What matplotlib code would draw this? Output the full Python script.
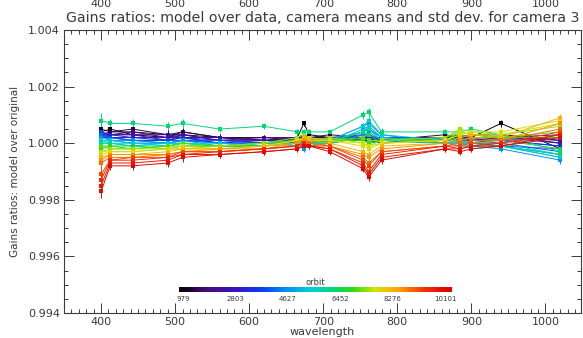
import numpy as np
import matplotlib
matplotlib.use("Agg")
import matplotlib.pyplot as plt
from matplotlib.colors import LinearSegmentedColormap, Normalize
from matplotlib.cm import ScalarMappable
from matplotlib.ticker import MultipleLocator, FormatStrFormatter
from matplotlib.transforms import ScaledTranslation

# Band centre wavelengths (nm)
wavelengths = [400.0, 412.5, 442.5, 490.0, 510.0, 560.0, 620.0, 665.0, 673.75,
               681.25, 708.75, 753.75, 761.25, 778.75, 865.0, 885.0, 900.0,
               940.0, 1020.0]

# Orbit numbers of the plotted camera means
orbits = [979, 1200, 1450, 1900, 2100, 2400, 2803, 3050, 3300, 3800,
          4000, 4200, 4627, 5100, 5300, 5500, 6000, 6200, 6452, 6900,
          7100, 7400, 7600, 7800, 8276, 8600, 8900, 9200, 9500, 9800, 10101]

# Gain ratio minus one, in units of 1e-4, one row per orbit
ratio_offsets_1e4 = [
    [4, 5, 3, 2, 4, 2, 1, 2, 7, 3, 2, 1, 3, 1, 2, 3, 2, 7, -2],
    [5, 4, 4, 3, 3, 2, 2, 1, 3, 2, 2, 2, 2, 2, 2, 2, 3, 3, 0],
    [3, 4, 5, 3, 4, 2, 1, 1, 2, 2, 3, 2, 2, 1, 3, 2, 3, 3, 1],
    [3, 3, 4, 2, 3, 1, 2, 2, 3, 1, 2, 3, 1, 2, 2, 1, 3, 2, 3],
    [4, 3, 3, 3, 2, 2, 1, 2, 2, 1, 1, 1, 2, 1, 1, 2, 1, 2, 1],
    [2, 3, 3, 1, 3, 1, 1, 1, 2, 2, 1, 2, 0, 1, 1, 2, 2, 1, 2],
    [3, 2, 2, 2, 2, 0, 1, 0, 1, 1, 1, 1, 1, 0, 2, 1, 1, 2, 0],
    [3, 3, 2, 1, 2, 1, 0, 1, 0, 1, 0, 2, 2, 1, 0, 1, 1, 1, -1],
    [2, 2, 1, 1, 2, 0, 0, 1, 2, 1, 0, 2, 3, 1, 1, 3, 2, 1, -1],
    [4, 2, 1, 1, 1, 1, 0, 2, 1, 0, 1, 4, 5, 2, 1, 2, 1, 0, -3],
    [3, 2, 1, 0, 1, 0, -1, 1, 0, 0, 0, 3, 3, 1, 0, 0, 0, -1, -2],
    [3, 1, 0, 0, 1, 0, 0, 0, -1, 0, 1, 6, 7, 3, 0, 1, 0, -1, -4],
    [2, 1, 1, 0, 1, -1, -1, 0, -2, -1, 0, 3, 4, 1, 0, -1, -1, -2, -6],
    [1, 0, 0, 0, 0, -1, 0, -1, -1, -1, 0, 5, 6, 2, 1, 0, -2, -1, -5],
    [1, 1, 0, -1, 0, 0, -1, 0, 0, 0, 1, 6, 8, 3, 1, 1, 0, 0, -4],
    [0, 0, -1, 0, 0, -1, 0, 0, 1, 0, 0, 4, 6, 2, 0, 0, -1, -1, -5],
    [0, 0, -1, -1, 0, -1, -1, 0, 0, -1, 1, 4, 5, 1, 0, 1, 0, -1, -4],
    [8, 7, 7, 6, 7, 5, 6, 4, 4, 4, 4, 10, 11, 4, 4, 4, 5, 3, -3],
    [-1, -1, -1, -2, -1, -1, -1, 1, 1, 0, 0, 2, 3, 0, 1, 2, 0, 1, -2],
    [-2, -1, -2, -1, -1, -1, 0, 1, 2, 1, 1, 1, 0, 1, 2, 4, 3, 2, 2],
    [-1, -2, -2, -1, 0, -1, 0, 1, 1, 1, 1, 2, 1, 1, 1, 3, 2, 2, 4],
    [-3, -2, -2, -2, -2, -1, 0, 2, 3, 1, 2, 0, -1, 1, 2, 5, 4, 3, 6],
    [-3, -3, -3, -2, -2, -2, -1, 1, 2, 1, 1, 0, -1, 0, 1, 4, 3, 3, 7],
    [-4, -3, -3, -2, -1, -2, -1, 1, 2, 2, 1, -1, -2, 0, 1, 3, 4, 4, 8],
    [-5, -4, -4, -3, -2, -2, -1, 0, 2, 1, 0, -3, -4, -1, 0, 2, 3, 2, 9],
    [-6, -4, -4, -4, -3, -2, -2, 0, 1, 0, -1, -4, -5, -2, 0, 1, 2, 1, 7],
    [-7, -5, -5, -4, -3, -3, -2, -1, 0, 0, -1, -5, -7, -3, -1, 0, 1, 1, 5],
    [-11, -6, -5, -5, -3, -3, -2, -1, 0, -1, -1, -6, -8, -3, -1, -1, 0, 0, 4],
    [-13, -6, -6, -5, -4, -3, -2, -1, 0, -1, -2, -7, -10, -4, -1, -2, -1, 0, 3],
    [-15, -7, -7, -6, -4, -4, -3, -2, -1, -1, -2, -8, -11, -5, -2, -2, -1, -1, 3],
    [-17, -8, -8, -7, -5, -4, -3, -2, -1, -1, -3, -9, -12, -6, -2, -3, -2, -1, 2],
]

# Standard deviation per band, in units of 1e-4
std_1e4 = [2.5, 1.5, 1.5, 1.5, 1.5, 1.2, 1.0, 1.0, 1.0, 1.0, 1.0, 1.3, 1.5,
           1.2, 1.0, 1.2, 1.2, 1.2, 1.2]

cbar_ticks = [979, 2803, 4627, 6452, 8276, 10101]

# Rainbow colour table, black -> purple -> blue -> cyan -> green -> yellow -> red
rainbow = LinearSegmentedColormap.from_list("rainbow_black", [
    (0.00, "#000000"), (0.10, "#4a0a78"), (0.20, "#3a12c0"), (0.30, "#0a3cf5"),
    (0.40, "#0098f0"), (0.48, "#00d0d8"), (0.57, "#00d870"), (0.64, "#30dc10"),
    (0.72, "#d8e400"), (0.80, "#ffa800"), (0.90, "#f43000"), (1.00, "#d80000"),
])
norm = Normalize(vmin=840, vmax=10345)

text_col = "#3a3a3a"
plt.rcParams["font.family"] = ["DejaVu Sans"]

fig = plt.figure(figsize=(5.83, 3.38), dpi=100)
ax = fig.add_axes([64 / 583, 25 / 338, 517 / 583, 283 / 338])

wl = np.array(wavelengths)
err = np.array(std_1e4) * 1e-4
for orb, offs in zip(orbits, ratio_offsets_1e4):
    ratio = 1.0 + np.array(offs) * 1e-4
    col = rainbow(norm(orb))
    ax.errorbar(wl, ratio, yerr=err, color=col, lw=0.7, elinewidth=0.7,
                capsize=2.5, capthick=0.7, marker="s", ms=2.8, mew=0)

ax.set_xlim(350, 1048)
ax.set_ylim(0.994, 1.004)
ax.xaxis.set_major_locator(MultipleLocator(100))
ax.xaxis.set_minor_locator(MultipleLocator(10))
ax.yaxis.set_major_locator(MultipleLocator(0.002))
ax.yaxis.set_minor_locator(MultipleLocator(0.0005))
ax.yaxis.set_major_formatter(FormatStrFormatter("%.3f"))
ax.tick_params(which="both", direction="in", top=True, right=True,
               labeltop=True, color=text_col, labelcolor=text_col,
               labelsize=8, width=0.7)
ax.tick_params(which="major", length=7, pad=3)
ax.tick_params(which="minor", length=3)

# top-axis labels sit high, just under the upper edge of the figure
offset = ScaledTranslation(0, 17 / 100, fig.dpi_scale_trans)
for t in ax.xaxis.get_major_ticks():
    t.label2.set_transform(t.label2.get_transform() + offset)
for sp in ax.spines.values():
    sp.set_color(text_col)
    sp.set_linewidth(0.8)

ax.set_title("Gains ratios: model over data, camera means and std dev. for camera 3",
             fontsize=10.2, color=text_col, y=1.0, pad=6)
ax.set_ylabel("Gains ratios: model over original", fontsize=7.5, color=text_col)
ax.yaxis.set_label_coords(-0.085, 0.5)
ax.set_xlabel("wavelength", fontsize=8, color=text_col)
ax.xaxis.set_label_coords(0.5, -0.05)

# orbit colour bar
cax = fig.add_axes([179 / 583, 46 / 338, 273 / 583, 5 / 338])
cb = fig.colorbar(ScalarMappable(norm=norm, cmap=rainbow), cax=cax,
                  orientation="horizontal")
cb.outline.set_visible(False)
cb.set_ticks(cbar_ticks)
cb.set_ticklabels([str(v) for v in cbar_ticks])
cax.tick_params(length=0, labelsize=5, pad=3, labelcolor=text_col)
cax.set_title("orbit", fontsize=6, color=text_col, pad=1.5)

fig.savefig("out.png", dpi=100)
